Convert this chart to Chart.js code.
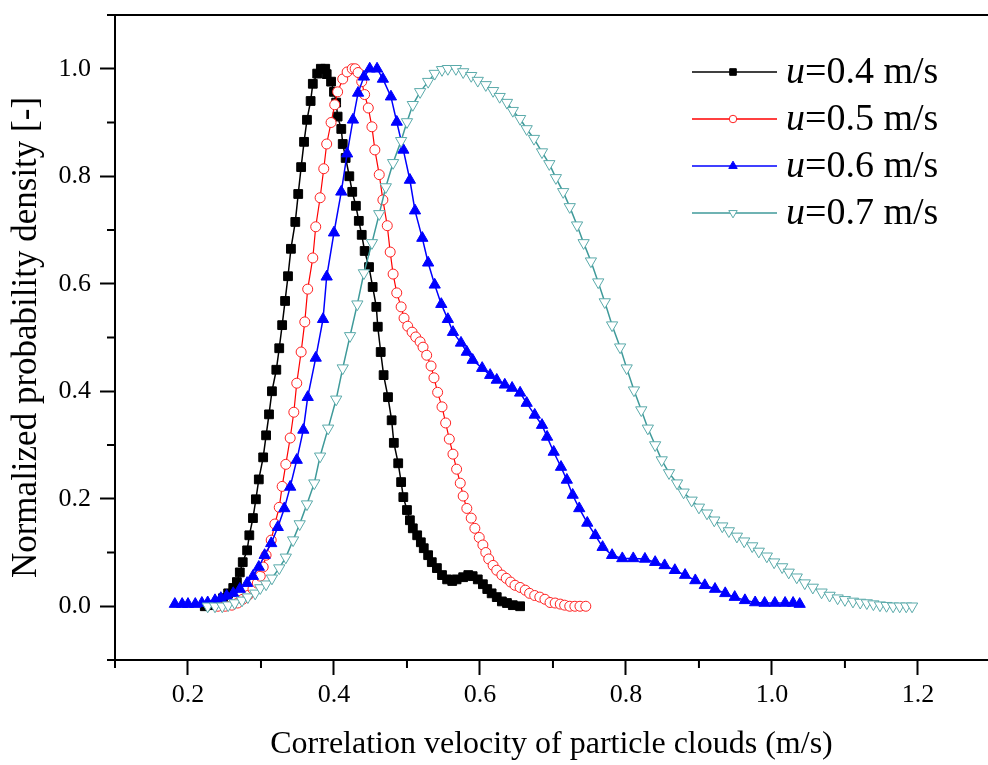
<!DOCTYPE html>
<html>
<head>
<meta charset="utf-8">
<script src="https://cdn.jsdelivr.net/npm/chart.js@4/dist/chart.umd.min.js"></script>
<style>
  html, body { margin: 0; padding: 0; background: #ffffff; }
  #wrap { width: 988px; height: 765px; }
</style>
</head>
<body>
<div id="wrap"><canvas id="chart" width="988" height="765"></canvas></div>
<script>
// ---- data -------------------------------------------------------------
// u = 0.4 m/s (black squares)
const xU04 = [0.223, 0.230, 0.240, 0.248, 0.255, 0.262, 0.267, 0.271, 0.275, 0.281, 0.284, 0.289, 0.293, 0.297, 0.303, 0.307, 0.311, 0.315, 0.321, 0.325, 0.329, 0.333, 0.337, 0.341, 0.347, 0.351, 0.355, 0.359, 0.363, 0.368, 0.371, 0.377, 0.382, 0.388, 0.390, 0.396, 0.400, 0.403, 0.405, 0.410, 0.412, 0.416, 0.421, 0.425, 0.430, 0.434, 0.438, 0.442, 0.448, 0.453, 0.458, 0.460, 0.464, 0.468, 0.474, 0.479, 0.482, 0.488, 0.492, 0.495, 0.500, 0.504, 0.508, 0.514, 0.519, 0.523, 0.529, 0.534, 0.541, 0.548, 0.555, 0.562, 0.568, 0.577, 0.584, 0.590, 0.597, 0.604, 0.610, 0.616, 0.623, 0.630, 0.637, 0.645, 0.655];
const yU04 = [0.000, 0.002, 0.007, 0.015, 0.024, 0.034, 0.045, 0.063, 0.082, 0.104, 0.132, 0.164, 0.199, 0.236, 0.277, 0.318, 0.357, 0.400, 0.440, 0.480, 0.523, 0.568, 0.614, 0.665, 0.715, 0.767, 0.817, 0.864, 0.905, 0.940, 0.972, 0.991, 1.000, 1.000, 0.990, 0.976, 0.957, 0.937, 0.911, 0.888, 0.860, 0.834, 0.800, 0.771, 0.745, 0.717, 0.691, 0.661, 0.631, 0.594, 0.557, 0.520, 0.473, 0.430, 0.389, 0.346, 0.304, 0.266, 0.231, 0.203, 0.179, 0.160, 0.145, 0.132, 0.119, 0.108, 0.095, 0.082, 0.071, 0.058, 0.050, 0.047, 0.050, 0.054, 0.058, 0.056, 0.050, 0.041, 0.032, 0.024, 0.017, 0.009, 0.006, 0.002, 0.000];

// u = 0.5 m/s (red open circles)
const xU05 = [0.241, 0.251, 0.260, 0.268, 0.275, 0.282, 0.289, 0.295, 0.299, 0.303, 0.307, 0.314, 0.319, 0.325, 0.329, 0.334, 0.340, 0.345, 0.349, 0.355, 0.360, 0.364, 0.371, 0.375, 0.381, 0.386, 0.390, 0.396, 0.401, 0.405, 0.412, 0.418, 0.425, 0.429, 0.433, 0.438, 0.442, 0.447, 0.452, 0.456, 0.462, 0.467, 0.473, 0.477, 0.481, 0.486, 0.492, 0.496, 0.501, 0.507, 0.512, 0.518, 0.522, 0.527, 0.533, 0.537, 0.542, 0.548, 0.553, 0.558, 0.563, 0.568, 0.573, 0.577, 0.582, 0.588, 0.593, 0.599, 0.604, 0.608, 0.612, 0.618, 0.623, 0.630, 0.636, 0.642, 0.648, 0.655, 0.662, 0.668, 0.675, 0.682, 0.689, 0.696, 0.703, 0.710, 0.716, 0.723, 0.730, 0.737, 0.745];
const yU05 = [0.000, 0.000, 0.002, 0.006, 0.013, 0.020, 0.032, 0.043, 0.056, 0.073, 0.095, 0.123, 0.153, 0.184, 0.223, 0.264, 0.313, 0.361, 0.415, 0.473, 0.529, 0.590, 0.648, 0.706, 0.760, 0.814, 0.860, 0.900, 0.933, 0.957, 0.981, 0.994, 1.000, 1.000, 0.993, 0.976, 0.952, 0.927, 0.892, 0.849, 0.803, 0.756, 0.708, 0.659, 0.618, 0.583, 0.557, 0.536, 0.521, 0.510, 0.501, 0.492, 0.482, 0.467, 0.447, 0.425, 0.398, 0.371, 0.341, 0.311, 0.283, 0.255, 0.229, 0.205, 0.182, 0.164, 0.145, 0.128, 0.114, 0.100, 0.088, 0.076, 0.067, 0.058, 0.052, 0.045, 0.039, 0.035, 0.030, 0.024, 0.020, 0.017, 0.013, 0.007, 0.006, 0.004, 0.002, 0.000, 0.000, 0.000, 0.000];

// u = 0.6 m/s (blue filled triangles)
const xU06 = [0.182, 0.192, 0.200, 0.210, 0.219, 0.227, 0.237, 0.245, 0.253, 0.262, 0.271, 0.281, 0.289, 0.297, 0.305, 0.314, 0.323, 0.332, 0.340, 0.349, 0.358, 0.364, 0.375, 0.385, 0.390, 0.400, 0.410, 0.418, 0.426, 0.433, 0.441, 0.449, 0.459, 0.467, 0.478, 0.486, 0.495, 0.504, 0.511, 0.521, 0.529, 0.538, 0.547, 0.556, 0.563, 0.574, 0.582, 0.590, 0.603, 0.614, 0.623, 0.634, 0.644, 0.655, 0.664, 0.675, 0.685, 0.692, 0.701, 0.711, 0.719, 0.727, 0.736, 0.747, 0.758, 0.768, 0.781, 0.795, 0.810, 0.826, 0.840, 0.853, 0.867, 0.881, 0.895, 0.908, 0.922, 0.936, 0.949, 0.963, 0.977, 0.990, 1.004, 1.018, 1.029, 1.038];
const yU06 = [0.004, 0.004, 0.004, 0.004, 0.006, 0.007, 0.011, 0.015, 0.019, 0.024, 0.032, 0.043, 0.056, 0.073, 0.095, 0.117, 0.147, 0.182, 0.222, 0.272, 0.328, 0.389, 0.462, 0.534, 0.613, 0.695, 0.771, 0.842, 0.905, 0.955, 0.985, 1.000, 1.000, 0.981, 0.948, 0.901, 0.849, 0.793, 0.736, 0.685, 0.639, 0.598, 0.562, 0.534, 0.510, 0.490, 0.473, 0.458, 0.443, 0.430, 0.421, 0.412, 0.406, 0.397, 0.378, 0.356, 0.337, 0.315, 0.287, 0.259, 0.235, 0.207, 0.182, 0.155, 0.132, 0.110, 0.095, 0.089, 0.089, 0.088, 0.082, 0.076, 0.067, 0.058, 0.048, 0.039, 0.032, 0.024, 0.017, 0.011, 0.007, 0.006, 0.006, 0.006, 0.006, 0.004];

// u = 0.7 m/s (teal open down-triangles)
const xU07 = [0.227, 0.237, 0.247, 0.255, 0.264, 0.274, 0.282, 0.292, 0.299, 0.307, 0.315, 0.325, 0.334, 0.344, 0.353, 0.363, 0.373, 0.381, 0.392, 0.403, 0.412, 0.422, 0.432, 0.441, 0.452, 0.462, 0.471, 0.481, 0.492, 0.500, 0.508, 0.518, 0.529, 0.538, 0.548, 0.556, 0.567, 0.577, 0.588, 0.597, 0.608, 0.618, 0.627, 0.637, 0.645, 0.655, 0.664, 0.674, 0.685, 0.695, 0.704, 0.714, 0.723, 0.733, 0.742, 0.752, 0.762, 0.771, 0.781, 0.792, 0.801, 0.811, 0.821, 0.830, 0.840, 0.849, 0.859, 0.870, 0.879, 0.890, 0.900, 0.911, 0.921, 0.932, 0.941, 0.952, 0.962, 0.973, 0.982, 0.993, 1.003, 1.014, 1.023, 1.034, 1.045, 1.056, 1.068, 1.079, 1.090, 1.100, 1.111, 1.121, 1.130, 1.139, 1.148, 1.157, 1.166, 1.175, 1.184, 1.192];
const yU07 = [0.000, 0.000, 0.000, 0.002, 0.006, 0.011, 0.017, 0.024, 0.034, 0.041, 0.052, 0.071, 0.091, 0.123, 0.153, 0.190, 0.229, 0.279, 0.331, 0.385, 0.443, 0.503, 0.562, 0.620, 0.676, 0.730, 0.780, 0.825, 0.866, 0.901, 0.933, 0.957, 0.976, 0.991, 0.998, 1.000, 1.000, 0.994, 0.987, 0.978, 0.970, 0.959, 0.948, 0.937, 0.922, 0.907, 0.888, 0.870, 0.845, 0.823, 0.797, 0.771, 0.743, 0.709, 0.676, 0.642, 0.603, 0.566, 0.523, 0.482, 0.443, 0.402, 0.365, 0.331, 0.300, 0.272, 0.248, 0.229, 0.212, 0.197, 0.184, 0.173, 0.160, 0.149, 0.140, 0.130, 0.121, 0.112, 0.102, 0.093, 0.082, 0.073, 0.063, 0.054, 0.043, 0.035, 0.026, 0.020, 0.015, 0.012, 0.009, 0.007, 0.006, 0.004, 0.002, 0.001, 0.000, 0.000, 0.000, 0.000];

const seriesLabels = ["=0.4 m/s", "=0.5 m/s", "=0.6 m/s", "=0.7 m/s"];

// axis ticks
const xMajorTicks = [0.2, 0.4, 0.6, 0.8, 1.0, 1.2];
const xMinorTicks = [0.1, 0.3, 0.5, 0.7, 0.9, 1.1];
const yMajorTicks = [0.0, 0.2, 0.4, 0.6, 0.8, 1.0];
const yMinorTicks = [-0.1, 0.1, 0.3, 0.5, 0.7, 0.9, 1.1];

const SERIF = '"Liberation Serif", "Times New Roman", serif';

function toPoints(xs, ys) {
  return xs.map((x, i) => ({ x: x, y: ys[i] }));
}

// marker style for each series (also reused by the legend)
const styles = [
  { line: "#000000", border: "#000000", fill: "#000000", pointStyle: "rect",     rotation: 0,   radius: 6.2, lineWidth: 1.5 },
  { line: "#ff0000", border: "#ff2020", fill: "#ffffff", pointStyle: "circle",   rotation: 0,   radius: 5.0, lineWidth: 1.2 },
  { line: "#0000ff", border: "#0000ff", fill: "#0000ff", pointStyle: "triangle", rotation: 0,   radius: 6.5, lineWidth: 1.5 },
  { line: "#3f9a9a", border: "#5aaaaa", fill: "#ffffff", pointStyle: "triangle", rotation: 180, radius: 6.5, lineWidth: 1.5 },
];

const seriesData = [
  toPoints(xU04, yU04),
  toPoints(xU05, yU05),
  toPoints(xU06, yU06),
  toPoints(xU07, yU07),
];

const datasets = seriesData.map((pts, i) => ({
  label: "u" + seriesLabels[i],
  data: pts,
  borderColor: styles[i].line,
  borderWidth: styles[i].lineWidth,
  pointStyle: styles[i].pointStyle,
  rotation: styles[i].rotation,
  pointRadius: styles[i].radius,
  pointBorderWidth: 1,
  pointBorderColor: styles[i].border,
  pointBackgroundColor: styles[i].fill,
  tension: 0,
  order: 4 - i, // later series drawn on top, as in the original plot
}));

// minor ticks + top frame line
const framePlugin = {
  id: "frame",
  afterDraw(chart) {
    const { ctx, chartArea, scales } = chart;
    ctx.save();
    ctx.strokeStyle = "#000000";
    ctx.lineWidth = 2;
    ctx.beginPath();
    ctx.moveTo(chartArea.left - 8, chartArea.top);
    ctx.lineTo(chartArea.right, chartArea.top);
    xMinorTicks.forEach((v) => {
      const px = scales.x.getPixelForValue(v);
      ctx.moveTo(px, chartArea.bottom);
      ctx.lineTo(px, chartArea.bottom + 8);
    });
    yMinorTicks.forEach((v) => {
      const py = scales.y.getPixelForValue(v);
      ctx.moveTo(chartArea.left, py);
      ctx.lineTo(chartArea.left - 8, py);
    });
    ctx.stroke();
    ctx.restore();
  },
};

// legend: line + marker, italic "u" then the rest
const legendPlugin = {
  id: "customLegend",
  afterDraw(chart) {
    const ctx = chart.ctx;
    const x0 = 692, x1 = 777, xm = 733, xt = 786;
    const rowY = [72, 119, 166, 213];
    ctx.save();
    seriesLabels.forEach((txt, i) => {
      const s = styles[i];
      const y = rowY[i];
      ctx.strokeStyle = s.line;
      ctx.lineWidth = 1.5;
      ctx.beginPath();
      ctx.moveTo(x0, y);
      ctx.lineTo(x1, y);
      ctx.stroke();
      ctx.fillStyle = s.fill;
      ctx.strokeStyle = s.border;
      ctx.lineWidth = 1;
      Chart.helpers.drawPoint(ctx, {
        pointStyle: s.pointStyle,
        rotation: s.rotation,
        radius: s.radius * 0.75,
        borderWidth: 1,
      }, xm, y);
      ctx.fillStyle = "#000000";
      ctx.textBaseline = "middle";
      ctx.textAlign = "left";
      ctx.font = "italic 38px " + SERIF;
      ctx.fillText("u", xt, y + 1);
      const w = ctx.measureText("u").width;
      ctx.font = "38px " + SERIF;
      ctx.fillText(txt, xt + w, y + 1);
    });
    ctx.restore();
  },
};

new Chart(document.getElementById("chart"), {
  type: "line",
  data: { datasets: datasets },
  plugins: [framePlugin, legendPlugin],
  options: {
    responsive: false,
    animation: false,
    layout: { autoPadding: false, padding: { top: 15, right: 0, left: 0, bottom: 0 } },
    plugins: { legend: { display: false }, tooltip: { enabled: false } },
    scales: {
      x: {
        type: "linear",
        min: 0.1,
        max: 1.296,
        afterBuildTicks: (scale) => { scale.ticks = xMajorTicks.map((v) => ({ value: v })); },
        afterFit: (scale) => {
          scale.height = 105;
          scale.paddingLeft = 0;
          scale.paddingRight = 0;
        },
        ticks: {
          callback: (v) => v.toFixed(1),
          color: "#000000",
          font: { family: SERIF, size: 26 },
          padding: 5,
          maxRotation: 0,
          autoSkip: false,
        },
        grid: { drawOnChartArea: false, tickLength: 15, tickWidth: 2, tickColor: "#000000" },
        border: { display: true, color: "#000000", width: 2 },
        title: {
          display: true,
          text: "Correlation velocity of particle clouds (m/s)",
          color: "#000000",
          font: { family: SERIF, size: 32 },
          padding: { top: 0, bottom: 1 },
        },
      },
      y: {
        type: "linear",
        min: -0.1,
        max: 1.1,
        afterBuildTicks: (scale) => { scale.ticks = yMajorTicks.map((v) => ({ value: v })); },
        afterFit: (scale) => {
          scale.width = 115;
          scale.paddingTop = 0;
          scale.paddingBottom = 0;
        },
        ticks: {
          callback: (v) => v.toFixed(1),
          color: "#000000",
          font: { family: SERIF, size: 26 },
          padding: 9,
          autoSkip: false,
        },
        grid: { drawOnChartArea: false, tickLength: 15, tickWidth: 2, tickColor: "#000000" },
        border: { display: true, color: "#000000", width: 2 },
        title: {
          display: true,
          text: "Normalized probability density [-]",
          color: "#000000",
          font: { family: SERIF, size: 35 },
          padding: { top: 6, bottom: 0 },
        },
      },
    },
  },
});
</script>
</body>
</html>
